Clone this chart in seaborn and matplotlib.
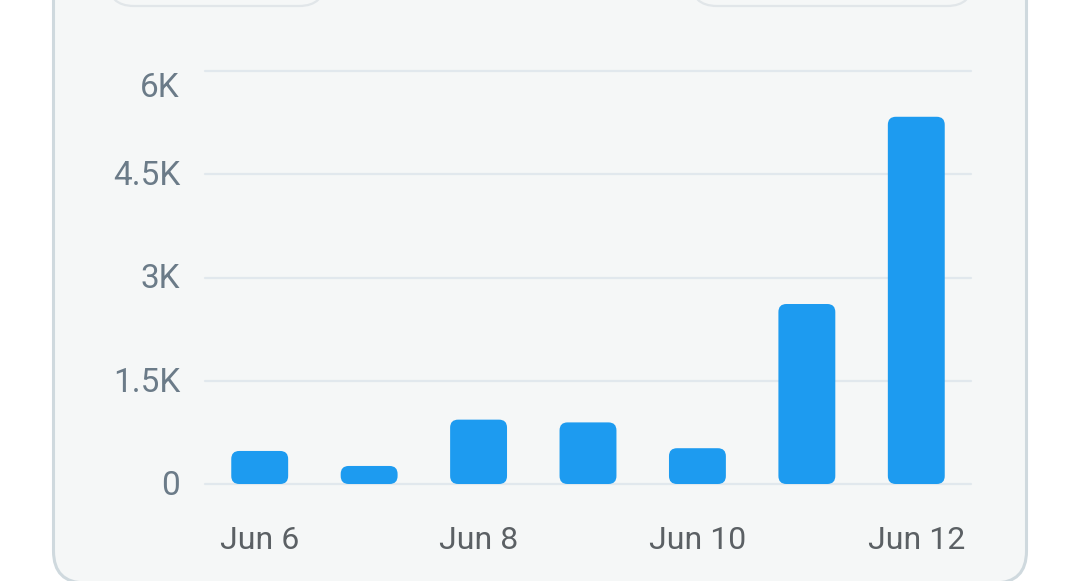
import matplotlib
matplotlib.use("Agg")
import matplotlib.pyplot as plt
import seaborn as sns
import pandas as pd
from matplotlib.patches import FancyBboxPatch
from matplotlib.transforms import IdentityTransform

days = ["Jun 6", "Jun 7", "Jun 8", "Jun 9", "Jun 10", "Jun 11", "Jun 12"]
views = [480, 262, 935, 895, 520, 2615, 5335]
y_ticks = [0, 1500, 3000, 4500, 6000]
y_labels = ["0", "1.5K", "3K", "4.5K", "6K"]
x_shown = ["Jun 6", "Jun 8", "Jun 10", "Jun 12"]

BLUE = "#1d9bf0"
CARD = "#f5f7f7"
GRID = "#e1e8ed"

sns.set_theme(style="white")
plt.rcParams["font.family"] = ["Roboto", "DejaVu Sans"]

fig = plt.figure(figsize=(10.8, 5.81), dpi=100)
fig.patch.set_facecolor("white")

# card behind the chart (pixel coords)
card = FancyBboxPatch((53.5, -2), 973, 660, boxstyle="round,pad=0,rounding_size=32",
                      transform=IdentityTransform(), facecolor=CARD,
                      edgecolor="#cfd9de", linewidth=2.2, zorder=0)
fig.add_artist(card)
for x0, w in [(108, 217), (691, 282)]:
    pill = FancyBboxPatch((x0, 575), w, 80, boxstyle="round,pad=0,rounding_size=26",
                          transform=IdentityTransform(), facecolor=CARD,
                          edgecolor="#e1e6e9", linewidth=1.6, zorder=0)
    fig.add_artist(pill)

ax = fig.add_axes([205 / 1080, 97 / 581, 766 / 1080, 413 / 581])
ax.set_facecolor("none")

df = pd.DataFrame({"day": days, "views": views})
sns.barplot(data=df, x="day", y="views", color=BLUE, width=0.52, ax=ax, saturation=1)

# swap plain bars for rounded ones
px_x = 766 / 7.0
px_y = 413 / 6000.0
r = 8 / px_x
aspect = (8 / px_y) / r
for bar in list(ax.patches):
    x, y, w, h = bar.get_x(), bar.get_y(), bar.get_width(), bar.get_height()
    bar.remove()
    ax.add_patch(FancyBboxPatch((x, y), w, h, boxstyle=f"round,pad=0,rounding_size={r}",
                                mutation_aspect=aspect, facecolor=BLUE, edgecolor="none",
                                zorder=3, clip_on=False))

ax.set_xlim(-0.5, 6.5)
ax.set_ylim(0, 6000)
for v in y_ticks:
    ax.axhline(v, color=GRID, linewidth=1.6, zorder=1, clip_on=False)

ax.set_yticks(y_ticks)
ax.set_yticklabels([])
for v, lab in zip(y_ticks, y_labels):
    off = -17 if v == 6000 else -2
    ax.annotate(lab, xy=(0, v), xycoords=("axes fraction", "data"),
                xytext=(-25, off), textcoords="offset pixels",
                ha="right", va="center", fontsize=24, color="#6b7b88")

ax.set_xticks([days.index(d) for d in x_shown])
ax.set_xticklabels(x_shown, fontsize=23, color="#5b6064")
ax.tick_params(axis="both", length=0)
ax.tick_params(axis="x", pad=30)
ax.set_xlabel("")
ax.set_ylabel("")
sns.despine(ax=ax, left=True, bottom=True)

fig.savefig("out.png", dpi=100, facecolor="white")
